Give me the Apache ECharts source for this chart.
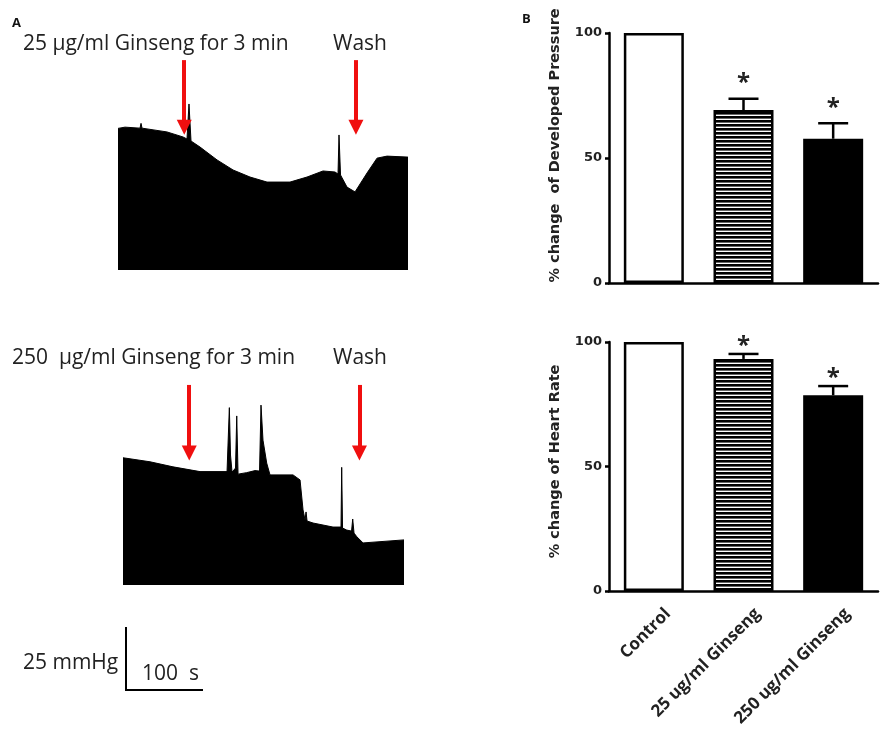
<!DOCTYPE html>
<html>
<head>
<meta charset="utf-8">
<script src="https://cdn.jsdelivr.net/npm/echarts@6/dist/echarts.min.js"></script>
<style>
  html, body { margin: 0; padding: 0; background: #fff; }
  #main { width: 892px; height: 738px; }
</style>
</head>
<body>
<div id="main"></div>
<script>
// ---- panel A: pressure traces (envelope of the beats), time in s, pressure in mmHg ----
var trace25T = [0, 9.1, 28.6, 29.9, 31.2, 32.5, 63.6, 84.4, 89.6, 92.2, 94.8, 106.5, 128.6, 149.4, 171.4,
    193.5, 223.4, 245.5, 266.2, 281.8, 285.7, 287.0, 289.0, 297.4, 307.8, 323.4, 336.4, 349.4, 376.6];
var trace25P = [56.2, 56.7, 56.3, 58.2, 56.3, 56.7, 54.8, 52.8, 52.0, 65.9, 51.2, 48.8, 43.7, 39.7, 36.9,
    34.9, 34.9, 36.9, 39.3, 38.9, 38.1, 53.6, 37.7, 32.9, 31.0, 38.5, 44.4, 45.2, 44.8];

var trace250T = [0, 35.1, 64.9, 100, 135.1, 137.0, 138.1, 139.6, 141.6, 146.1, 147.7, 149.4, 160.6, 171.4,
    177.3, 179.2, 181.8, 186.6, 190.9, 220.8, 229.9, 233.8, 236.4, 237.7, 239, 246.8, 272.7, 283.1, 284.0,
    285.1, 290.5, 296.8, 298.3, 300, 303.5, 311.7, 364.9];
var trace250P = [50.5, 48.9, 46.9, 45.0, 45.0, 44.8, 70.4, 51.6, 44.8, 46.4, 67.1, 44.0, 44.6, 45.4,
    45.2, 71.4, 57.5, 48.4, 43.7, 43.7, 41.7, 29.8, 25.8, 29.0, 25.4, 24.6, 23.0, 23.0, 46.7,
    22.6, 21.8, 21.4, 26.2, 20.6, 19.2, 16.7, 17.9];

// drug / wash arrows (time s, from -> to mmHg)
var arrow25T = [86, 309];
var arrow250T = [86, 307];
var arrow25From = 83.3, arrow25To = 56.7;
var arrow250From = 79.4, arrow250To = 52.4;

// ---- panel B: bar charts ----
var categories = ['Control', '25 ug/ml Ginseng', '250 ug/ml Ginseng'];
var pressureMean = [100, 69.2, 57.7];
var pressureErr = [0, 4.5, 6.2];
var rateMean = [100, 93.2, 78.6];
var rateErr = [0, 2.0, 3.7];
var stars = ['', '*', '*'];

function pairs(t, p) {
    var out = [];
    for (var i = 0; i < t.length; i++) out.push([t[i], p[i]]);
    return out;
}

// horizontal stripe pattern for the 25 ug/ml bar
var stripe = document.createElement('canvas');
stripe.width = 4;
stripe.height = 4;
var sctx = stripe.getContext('2d');
sctx.fillStyle = '#000';
sctx.fillRect(0, 0, 4, 4);
sctx.fillStyle = '#fff';
sctx.fillRect(0, 2.6, 4, 1.4);

var barColors = ['#fff', {image: stripe, repeat: 'repeat'}, '#000'];

var font = 'Open Sans';
var fontB = 'DejaVu Sans';

function arrowLines(ts, from, to) {
    return ts.map(function (t) {
        return [{coord: [t, from]}, {coord: [t, to]}];
    });
}

function traceSeries(idx, data, arrows) {
    return {
        type: 'line',
        xAxisIndex: idx,
        yAxisIndex: idx,
        data: data,
        showSymbol: false,
        silent: true,
        lineStyle: {color: '#000', width: 1},
        areaStyle: {color: '#000', opacity: 1, origin: 'start'},
        markLine: {
            silent: true,
            symbol: ['none', 'triangle'],
            symbolSize: [15, 15],
            label: {show: false},
            lineStyle: {color: '#f00f0f', width: 4, type: 'solid'},
            itemStyle: {color: '#f00f0f'},
            emphasis: {disabled: true},
            data: arrows
        }
    };
}

function barData(means) {
    return means.map(function (v, i) {
        return {value: v, itemStyle: {color: barColors[i]}};
    });
}

function errData(means, errs) {
    return means.map(function (v, i) {
        return [i, v, errs[i]];
    });
}

function errRender(starGap) {
    return function (params, api) {
        var i = api.value(0), m = api.value(1), e = api.value(2);
        if (!e) return;
        var base = api.coord([i, m]);
        var top = api.coord([i, m + e]);
        return {
            type: 'group',
            children: [
                {type: 'line', shape: {x1: base[0], y1: base[1], x2: top[0], y2: top[1]},
                    style: {stroke: '#000', lineWidth: 2.5}},
                {type: 'line', shape: {x1: top[0] - 15, y1: top[1], x2: top[0] + 15, y2: top[1]},
                    style: {stroke: '#000', lineWidth: 2.5}},
                {type: 'text', style: {text: stars[i], x: top[0], y: top[1] - starGap,
                    align: 'center', verticalAlign: 'middle', fill: '#222',
                    font: 'bold 24px "' + font + '"'}}
            ]
        };
    };
}

var yAxisBar = function (idx, name) {
    return {
        gridIndex: idx, type: 'value', min: 0, max: 100, interval: 50,
        name: name, nameLocation: 'middle', nameGap: 46, nameRotate: 90,
        nameTextStyle: {fontFamily: fontB, fontWeight: 'bold', fontSize: 14.5, color: '#222'},
        splitLine: {show: false},
        axisLine: {show: true, lineStyle: {color: '#000', width: 2.5}},
        axisTick: {show: true, length: 4, lineStyle: {color: '#000', width: 2.5}},
        axisLabel: {fontFamily: fontB, fontWeight: 'bold', fontSize: 13, color: '#222', margin: 7}
    };
};

function label(text, x, y) {
    return {type: 'text', x: x, y: y, style: {text: text, verticalAlign: 'middle',
        font: '21px "' + font + '"', fill: '#222'}};
}

var chart = echarts.init(document.getElementById('main'));
var option = {
    animation: false,
    grid: [
        {left: 118, top: 38.2, width: 290, height: 231.8},
        {left: 123, top: 353.2, width: 281, height: 231.8},
        {left: 609, top: 33, width: 269, height: 250},
        {left: 609, top: 342, width: 269, height: 249}
    ],
    xAxis: [
        {gridIndex: 0, type: 'value', min: 0, max: 376.6, show: false},
        {gridIndex: 1, type: 'value', min: 0, max: 364.9, show: false},
        {gridIndex: 2, type: 'category', data: categories,
            axisLine: {lineStyle: {color: '#000', width: 2.5}},
            axisTick: {show: false}, axisLabel: {show: false}},
        {gridIndex: 3, type: 'category', data: categories,
            axisLine: {lineStyle: {color: '#000', width: 2.5}},
            axisTick: {show: false},
            axisLabel: {rotate: 45, margin: 6, verticalAlign: 'top', lineHeight: 40,
                fontFamily: font, fontWeight: 'bold', fontSize: 17, color: '#222'}}
    ],
    yAxis: [
        {gridIndex: 0, type: 'value', min: 0, max: 92, show: false},
        {gridIndex: 1, type: 'value', min: 0, max: 92, show: false},
        yAxisBar(2, '     % change  of Developed Pressure'),
        yAxisBar(3, '  % change of Heart Rate')
    ],
    series: [
        traceSeries(0, pairs(trace25T, trace25P), arrowLines(arrow25T, arrow25From, arrow25To)),
        traceSeries(1, pairs(trace250T, trace250P), arrowLines(arrow250T, arrow250From, arrow250To)),
        {type: 'bar', xAxisIndex: 2, yAxisIndex: 2, barWidth: 60, silent: true,
            itemStyle: {borderColor: '#000', borderWidth: 2.5}, data: barData(pressureMean)},
        {type: 'bar', xAxisIndex: 3, yAxisIndex: 3, barWidth: 60, silent: true,
            itemStyle: {borderColor: '#000', borderWidth: 2.5}, data: barData(rateMean)},
        {type: 'custom', xAxisIndex: 2, yAxisIndex: 2, silent: true, z: 5,
            renderItem: errRender(15.5), data: errData(pressureMean, pressureErr)},
        {type: 'custom', xAxisIndex: 3, yAxisIndex: 3, silent: true, z: 5,
            renderItem: errRender(7.5), data: errData(rateMean, rateErr)}
    ],
    graphic: [
        {type: 'text', left: 12, top: 17, style: {text: 'A', font: 'bold 13px "' + font + '"', fill: '#111'}},
        {type: 'text', left: 522, top: 13, style: {text: 'B', font: 'bold 13px "' + font + '"', fill: '#111'}},
        label('25 \u00b5g/ml Ginseng for 3 min', 23, 44.5),
        label('Wash', 333, 44.5),
        label('250  \u00b5g/ml Ginseng for 3 min', 12, 358),
        label('Wash', 333, 358),
        label('25 mmHg', 23, 663.5),
        label('100  s', 142, 674.5),
        {type: 'polyline', shape: {points: [[126, 627], [126, 690], [203, 690]]},
            style: {stroke: '#000', lineWidth: 2, fill: null}}
    ]
};
chart.setOption(option);
</script>
</body>
</html>
